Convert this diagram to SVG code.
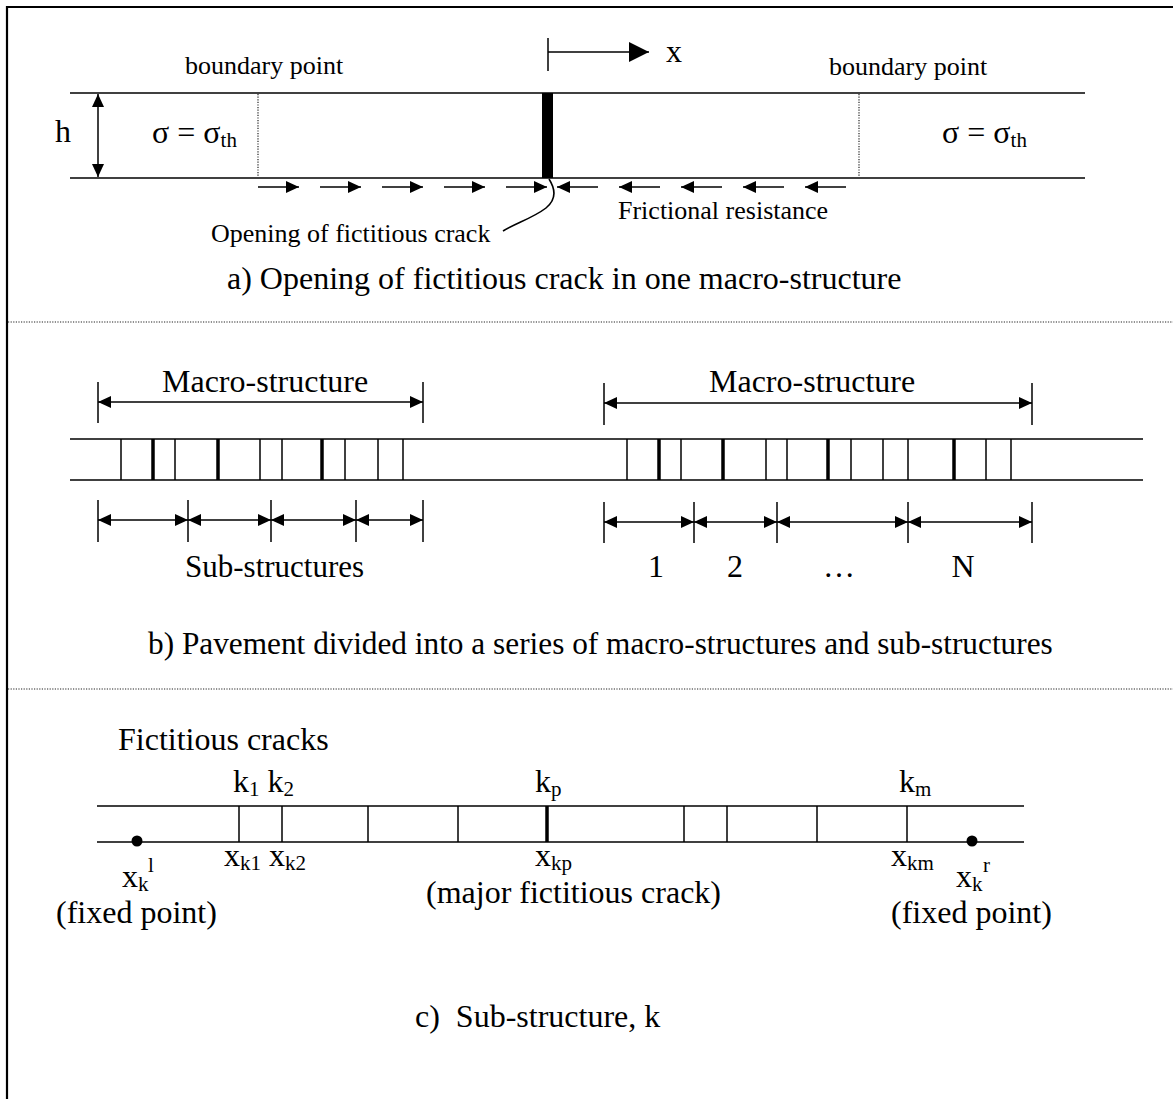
<svg xmlns="http://www.w3.org/2000/svg" width="1173" height="1099" viewBox="0 0 1173 1099">
  <style>
    text { font-family: "Liberation Serif", "Times New Roman", serif; fill: #000; }
    .t32 { font-size: 32px; }
    .t31 { font-size: 31px; }
    .t26 { font-size: 26px; }
    .sub { font-size: 21px; }
    .ln { stroke: #000; stroke-width: 1.6; fill: none; }
    .thin { stroke: #000; stroke-width: 1.5; }
    .thick { stroke: #000; stroke-width: 3.5; }
    .dot { stroke: #222; stroke-width: 1.2; stroke-dasharray: 1.2 1.4; fill: none; }
    .arr { stroke: #000; stroke-width: 1.5; fill: none; marker-end: url(#ah); }
    .dim { stroke: #000; stroke-width: 1.5; fill: none; marker-start: url(#ah); marker-end: url(#ah); }
    .tick { stroke: #000; stroke-width: 1.5; }
  </style>
  <defs>
    <marker id="ah" viewBox="0 0 13 12" refX="13" refY="6" markerWidth="13" markerHeight="12" markerUnits="userSpaceOnUse" orient="auto-start-reverse">
      <path d="M0,0 L13,6 L0,12 z" fill="#000"/>
    </marker>
    <marker id="ahx" viewBox="0 0 20 20" refX="20" refY="10" markerWidth="20" markerHeight="20" markerUnits="userSpaceOnUse" orient="auto">
      <path d="M0,0 L20,10 L0,20 z" fill="#000"/>
    </marker>
  </defs>
  <rect width="1173" height="1099" fill="#fff"/>

  <!-- outer frame (top and left edges) and section separators -->
  <g id="frame">
    <line x1="6" y1="7" x2="1173" y2="7" stroke="#000" stroke-width="2.2"/>
    <line x1="7" y1="6" x2="7" y2="1099" stroke="#000" stroke-width="2.2"/>
    <line class="dot" x1="8" y1="322" x2="1173" y2="322"/>
    <line class="dot" x1="8" y1="689" x2="1173" y2="689"/>
  </g>

  <!-- a) single macro-structure -->
  <g id="slab-a">
    <line class="ln" x1="70" y1="93" x2="1085" y2="93"/>
    <line class="ln" x1="70" y1="178" x2="1085" y2="178"/>
    <line class="dot" x1="258" y1="94" x2="258" y2="177"/>
    <line class="dot" x1="859" y1="94" x2="859" y2="177"/>
    <rect x="542" y="93" width="11" height="85" fill="#000"/>
  </g>
  <g id="labels-a">
    <text class="t26" x="185" y="74">boundary point</text>
    <text class="t26" x="829" y="75">boundary point</text>
    <text class="t32" x="55" y="142">h</text>
    <text class="t32" x="152" y="143">σ = σ<tspan class="sub" dy="4">th</tspan></text>
    <text class="t32" x="942" y="143">σ = σ<tspan class="sub" dy="4">th</tspan></text>
    <text class="t32" x="666" y="62">x</text>
    <text class="t26" x="618" y="219">Frictional resistance</text>
    <text class="t26" x="211" y="242">Opening of fictitious crack</text>
    <text class="t32" x="227" y="289">a) Opening of fictitious crack in one macro-structure</text>
  </g>

  <!-- b) macro- and sub-structures -->
  <g id="slab-b">
    <line class="ln" x1="70" y1="439" x2="1143" y2="439"/>
    <line class="ln" x1="70" y1="480" x2="1143" y2="480"/>
    <g class="thin">
      <line x1="121" y1="439" x2="121" y2="480"/>
      <line x1="175" y1="439" x2="175" y2="480"/>
      <line x1="260" y1="439" x2="260" y2="480"/>
      <line x1="282" y1="439" x2="282" y2="480"/>
      <line x1="345" y1="439" x2="345" y2="480"/>
      <line x1="378" y1="439" x2="378" y2="480"/>
      <line x1="403" y1="439" x2="403" y2="480"/>
      <line x1="627" y1="439" x2="627" y2="480"/>
      <line x1="681" y1="439" x2="681" y2="480"/>
      <line x1="766" y1="439" x2="766" y2="480"/>
      <line x1="787" y1="439" x2="787" y2="480"/>
      <line x1="851" y1="439" x2="851" y2="480"/>
      <line x1="883" y1="439" x2="883" y2="480"/>
      <line x1="908" y1="439" x2="908" y2="480"/>
      <line x1="986" y1="439" x2="986" y2="480"/>
      <line x1="1011" y1="439" x2="1011" y2="480"/>
    </g>
    <g class="thick">
      <line x1="153" y1="439" x2="153" y2="480"/>
      <line x1="218" y1="439" x2="218" y2="480"/>
      <line x1="322" y1="439" x2="322" y2="480"/>
      <line x1="659" y1="439" x2="659" y2="480"/>
      <line x1="723" y1="439" x2="723" y2="480"/>
      <line x1="828" y1="439" x2="828" y2="480"/>
      <line x1="954" y1="439" x2="954" y2="480"/>
    </g>
    <g id="ticks-b">
      <line class="tick" x1="98" y1="382" x2="98" y2="423"/>
      <line class="tick" x1="423" y1="382" x2="423" y2="423"/>
      <line class="tick" x1="604" y1="383" x2="604" y2="425"/>
      <line class="tick" x1="1032" y1="383" x2="1032" y2="425"/>
      <line class="tick" x1="98" y1="500" x2="98" y2="542"/>
      <line class="tick" x1="188" y1="500" x2="188" y2="542"/>
      <line class="tick" x1="271" y1="500" x2="271" y2="542"/>
      <line class="tick" x1="356" y1="500" x2="356" y2="542"/>
      <line class="tick" x1="423" y1="500" x2="423" y2="542"/>
      <line class="tick" x1="604" y1="502" x2="604" y2="543"/>
      <line class="tick" x1="694" y1="502" x2="694" y2="543"/>
      <line class="tick" x1="777" y1="502" x2="777" y2="543"/>
      <line class="tick" x1="908" y1="502" x2="908" y2="543"/>
      <line class="tick" x1="1032" y1="502" x2="1032" y2="543"/>
    </g>
  </g>
  <g id="labels-b">
    <text class="t32" x="162" y="392">Macro-structure</text>
    <text class="t32" x="709" y="392">Macro-structure</text>
    <text class="t31" x="185" y="577">Sub-structures</text>
    <text class="t32" x="656" y="577" text-anchor="middle">1</text>
    <text class="t32" x="735" y="577" text-anchor="middle">2</text>
    <text class="t32" x="839" y="577" text-anchor="middle">…</text>
    <text class="t32" x="963" y="577" text-anchor="middle">N</text>
    <text x="148" y="654" font-size="31.3">b) Pavement divided into a series of macro-structures and sub-structures</text>
  </g>

  <!-- c) one sub-structure -->
  <g id="slab-c">
    <line class="ln" x1="97" y1="806" x2="1024" y2="806"/>
    <line class="ln" x1="97" y1="842" x2="1024" y2="842"/>
    <g class="thin">
      <line x1="239" y1="806" x2="239" y2="842"/>
      <line x1="282" y1="806" x2="282" y2="842"/>
      <line x1="368" y1="806" x2="368" y2="842"/>
      <line x1="458" y1="806" x2="458" y2="842"/>
      <line x1="684" y1="806" x2="684" y2="842"/>
      <line x1="727" y1="806" x2="727" y2="842"/>
      <line x1="817" y1="806" x2="817" y2="842"/>
      <line x1="907" y1="806" x2="907" y2="842"/>
    </g>
    <line class="thick" x1="547" y1="806" x2="547" y2="842"/>
    <circle cx="137" cy="841" r="5.5" fill="#000"/>
    <circle cx="972" cy="841" r="5.5" fill="#000"/>
  </g>
  <g id="labels-c">
    <text class="t32" x="118" y="750">Fictitious cracks</text>
    <text class="t32" x="233" y="792">k<tspan class="sub" dy="4">1</tspan><tspan dy="-4"> k</tspan><tspan class="sub" dy="4">2</tspan></text>
    <text class="t32" x="535" y="792">k<tspan class="sub" dy="4">p</tspan></text>
    <text class="t32" x="899" y="792">k<tspan class="sub" dy="4">m</tspan></text>
    <text class="t32" x="224" y="866">x<tspan class="sub" dy="4">k1</tspan><tspan dy="-4"> x</tspan><tspan class="sub" dy="4">k2</tspan></text>
    <text class="t32" x="535" y="866">x<tspan class="sub" dy="4">kp</tspan></text>
    <text class="t32" x="891" y="866">x<tspan class="sub" dy="4">km</tspan></text>
    <text class="t32" x="122" y="887">x<tspan class="sub" dy="4">k</tspan></text>
    <text class="sub" x="148" y="872">l</text>
    <text class="t32" x="956" y="887">x<tspan class="sub" dy="4">k</tspan></text>
    <text class="sub" x="983" y="872">r</text>
    <text class="t32" x="56" y="923">(fixed point)</text>
    <text class="t32" x="426" y="903">(major fictitious crack)</text>
    <text class="t32" x="891" y="923">(fixed point)</text>
    <text class="t32" x="415" y="1027" xml:space="preserve">c)  Sub-structure, k</text>
  </g>

  <!-- arrows, dimension lines and the crack leader -->
  <g id="connectors">
    <line x1="548" y1="38" x2="548" y2="71" class="tick"/>
    <line x1="548" y1="52" x2="649" y2="52" stroke="#000" stroke-width="1.5" marker-end="url(#ahx)"/>
    <line class="dim" x1="98" y1="94" x2="98" y2="177"/>
    <line class="arr" x1="258" y1="187" x2="299" y2="187"/>
    <line class="arr" x1="320" y1="187" x2="361" y2="187"/>
    <line class="arr" x1="382" y1="187" x2="423" y2="187"/>
    <line class="arr" x1="444" y1="187" x2="485" y2="187"/>
    <line class="arr" x1="506" y1="187" x2="547" y2="187"/>
    <line class="arr" x1="598" y1="187" x2="557" y2="187"/>
    <line class="arr" x1="660" y1="187" x2="619" y2="187"/>
    <line class="arr" x1="722" y1="187" x2="681" y2="187"/>
    <line class="arr" x1="784" y1="187" x2="743" y2="187"/>
    <line class="arr" x1="846" y1="187" x2="805" y2="187"/>
    <path class="ln" d="M549,179 C556,190 556,200 546,208 C533,218 516,223 503,231"/>
    <line class="dim" x1="98" y1="402" x2="423" y2="402"/>
    <line class="dim" x1="604" y1="403" x2="1032" y2="403"/>
    <line class="dim" x1="98" y1="520" x2="188" y2="520"/>
    <line class="dim" x1="188" y1="520" x2="271" y2="520"/>
    <line class="dim" x1="271" y1="520" x2="356" y2="520"/>
    <line class="dim" x1="356" y1="520" x2="423" y2="520"/>
    <line class="dim" x1="604" y1="522" x2="694" y2="522"/>
    <line class="dim" x1="694" y1="522" x2="777" y2="522"/>
    <line class="dim" x1="777" y1="522" x2="908" y2="522"/>
    <line class="dim" x1="908" y1="522" x2="1032" y2="522"/>
  </g>
</svg>
